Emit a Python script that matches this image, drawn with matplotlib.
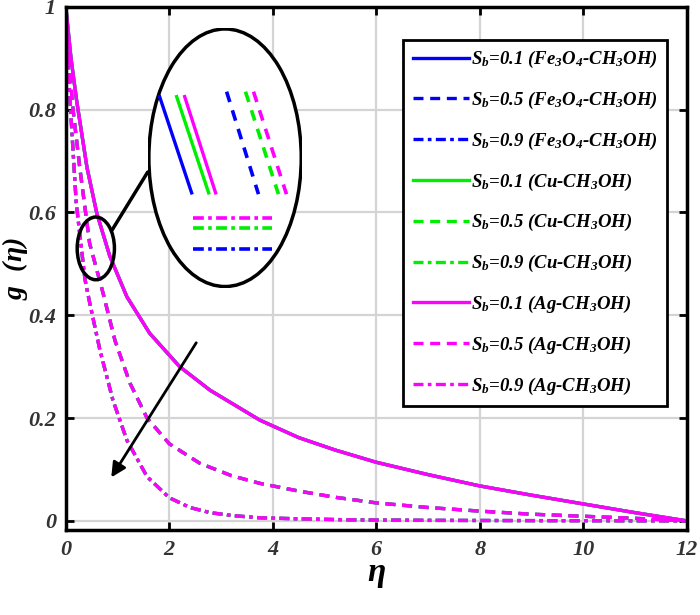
import matplotlib
matplotlib.use("Agg")
import numpy as np
import matplotlib.pyplot as plt
from matplotlib.patches import Ellipse, ConnectionPatch

plt.rcParams['font.family'] = ['Liberation Serif', 'DejaVu Serif']
plt.rcParams['mathtext.fontset'] = 'custom'
plt.rcParams['mathtext.rm'] = 'Liberation Serif:italic:bold'
plt.rcParams['mathtext.it'] = 'Liberation Serif:italic:bold'

# the three fluids sit on top of each other
eta_01 = [0, 0.1, 0.21, 0.41, 0.6, 0.85, 1.18, 1.62, 2.2, 2.79, 3.75, 4.5, 5.2, 6.0,
          7.0, 8.0, 9.0, 10.0, 11.0, 12.0]
g_01 = [1.0, 0.9, 0.817, 0.687, 0.598, 0.515, 0.436, 0.365, 0.3, 0.254, 0.196, 0.162,
        0.138, 0.114, 0.09, 0.068, 0.05, 0.033, 0.016, 0.0]

eta_05 = [0, 0.06, 0.14, 0.27, 0.46, 0.72, 0.95, 1.24, 1.57, 2.0, 2.59, 3.2, 3.75, 4.5,
          5.2, 6.0, 7.0, 8.0, 9.0, 10.0, 11.0, 12.0]
g_05 = [1.0, 0.89, 0.8, 0.687, 0.54, 0.443, 0.351, 0.268, 0.2, 0.15, 0.112, 0.088, 0.073,
        0.058, 0.046, 0.035, 0.026, 0.019, 0.013, 0.009, 0.005, 0.0]

eta_09 = [0, 0.04, 0.08, 0.2, 0.37, 0.46, 0.66, 0.91, 1.18, 1.57, 2.0, 2.4, 2.79, 3.25,
          3.75, 4.5, 5.5, 7.0, 9.0, 12.0]
g_09 = [1.0, 0.9, 0.82, 0.62, 0.47, 0.425, 0.332, 0.235, 0.157, 0.086, 0.045, 0.026,
        0.016, 0.01, 0.006, 0.004, 0.002, 0.001, 0.0005, 0.0]

fluids = ['Fe$_3$O$_4$-CH$_3$OH', 'Cu-CH$_3$OH', 'Ag-CH$_3$OH']
colors = ['#0000ff', '#00ee00', '#ff00ff']
sb_vals = ['0.1', '0.5', '0.9']
curves = [(eta_01, g_01), (eta_05, g_05), (eta_09, g_09)]
styles = ['-', (0, (3, 2)), (0, (3, 1.3, 1.1, 1.3))]

# inset sketch, in the inset's own 0..1 frame
ins_solid_u = [[0.077, 0.284], [0.187, 0.394], [0.239, 0.439]]
ins_solid_v = [0.735, 0.365]
ins_dash_u = [[0.51, 0.716], [0.632, 0.845], [0.684, 0.897]]
ins_dash_v = [0.754, 0.36]
ins_dd_u = [0.29, 0.806]
ins_dd_v = [0.15, 0.231, 0.269]

fig = plt.figure(figsize=(7, 6.15), dpi=100)
ax = fig.add_axes([0.094, 0.138, 0.887, 0.851])

for fi in range(3):
    for si in range(3):
        x, y = curves[si]
        ax.plot(x, y, color=colors[fi], ls=styles[si], lw=2.4,
                solid_joinstyle='round', dash_joinstyle='round',
                label='S$_b$=' + sb_vals[si] + ' (' + fluids[fi] + ')')

ax.set_xlim(0, 12)
ax.set_ylim(-0.018, 1)
ax.set_xticks([0, 2, 4, 6, 8, 10, 12])
ax.set_yticks([0, 0.2, 0.4, 0.6, 0.8, 1])
ax.set_yticklabels(['0', '0.2', '0.4', '0.6', '0.8', '1'])
ax.grid(True, color='#d4d4d4', lw=1.6)
ax.tick_params(direction='in', top=True, right=True, length=6, width=2,
               labelsize=16, pad=7)
for t in ax.get_xticklabels() + ax.get_yticklabels():
    t.set_fontstyle('italic')
    t.set_fontweight('bold')
    t.set_color('#333333')
for s in ax.spines.values():
    s.set_linewidth(2.5)

ax.set_xlabel(r'$\eta$', fontsize=24, labelpad=0)
ax.set_ylabel(r'$g\ \ (\eta)$', fontsize=20)
ax.yaxis.set_label_coords(-0.058, 0.5)

leg = ax.legend(loc='upper right', bbox_to_anchor=(0.984, 0.955),
                handlelength=3.0, handletextpad=0.1, labelspacing=1.05,
                borderpad=0.5, fancybox=False, framealpha=1, edgecolor='black',
                prop={'style': 'italic', 'weight': 'bold', 'size': 13.5})
leg.get_frame().set_linewidth(2)

ax.annotate('', xy=(0.85, 0.08), xytext=(2.55, 0.351),
            arrowprops=dict(arrowstyle='-|>', color='black', lw=2,
                            mutation_scale=22))

# small ellipse around the zoomed region
small = Ellipse((0.58, 0.53), 0.72, 0.122, fill=False, lw=2.5, ec='black', zorder=5)
ax.add_patch(small)

ins = fig.add_axes([0.211, 0.532, 0.221, 0.423])
ins.set_xlim(0, 1)
ins.set_ylim(0, 1)
ins.axis('off')
big = Ellipse((0.5, 0.5), 0.985, 0.99, fc='white', ec='black', lw=2.5)
ins.add_patch(big)
for i in range(3):
    ins.plot(ins_solid_u[i], ins_solid_v, color=colors[i], lw=2.4)
    ins.plot(ins_dash_u[i], ins_dash_v, color=colors[i], lw=2.6, ls=(0, (3, 2.4)))
    ins.plot(ins_dd_u, [ins_dd_v[i]] * 2, color=colors[i], lw=2.6,
             ls=(0, (3, 1.2, 1, 1.2)))

con = ConnectionPatch(xyA=(0.0, 0.445), coordsA=ins.transAxes,
                      xyB=(0.89, 0.565), coordsB=ax.transData,
                      color='black', lw=2.5)
fig.add_artist(con)

fig.savefig('out.png', dpi=100)
